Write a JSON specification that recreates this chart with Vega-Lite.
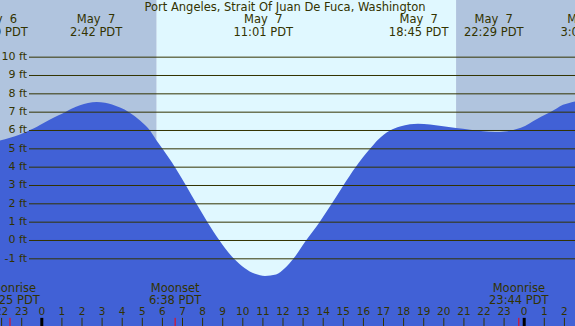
{
  "$schema": "https://vega.github.io/schema/vega-lite/v6.json",
  "width": 575,
  "height": 326,
  "autosize": {"type": "none"},
  "padding": 0,
  "config": {"view": {"stroke": null}, "text": {"font": "DejaVu Sans", "color": "#333300"}},
  "datasets": {
    "sky": [
      {"start": -4, "end": 5.716, "kind": "night"},
      {"start": 5.716, "end": 20.61, "kind": "day"},
      {"start": 20.61, "end": 30, "kind": "night"}
    ],
    "tide": [
      {"t": -2.6, "ft": 5.38}, {"t": -2.08, "ft": 5.45}, {"t": -1.582, "ft": 5.6}, {"t": -1.085, "ft": 5.78},
      {"t": -0.736, "ft": 5.95}, {"t": -0.388, "ft": 6.12}, {"t": -0.09, "ft": 6.3}, {"t": 0.408, "ft": 6.6},
      {"t": 0.806, "ft": 6.82}, {"t": 1.154, "ft": 7.0}, {"t": 1.502, "ft": 7.2}, {"t": 1.9, "ft": 7.38},
      {"t": 2.298, "ft": 7.5}, {"t": 2.731, "ft": 7.55}, {"t": 3.144, "ft": 7.52}, {"t": 3.493, "ft": 7.42},
      {"t": 3.891, "ft": 7.25}, {"t": 4.338, "ft": 7.0}, {"t": 4.886, "ft": 6.55}, {"t": 5.383, "ft": 6.0},
      {"t": 5.682, "ft": 5.5}, {"t": 6.005, "ft": 5.0}, {"t": 6.627, "ft": 4.0}, {"t": 7.174, "ft": 3.0},
      {"t": 7.697, "ft": 2.0}, {"t": 8.244, "ft": 1.0}, {"t": 8.841, "ft": 0.0}, {"t": 9.562, "ft": -1.0},
      {"t": 10.085, "ft": -1.5}, {"t": 10.607, "ft": -1.82}, {"t": 11.104, "ft": -1.93}, {"t": 11.652, "ft": -1.85},
      {"t": 12.1, "ft": -1.5}, {"t": 12.512, "ft": -1.0}, {"t": 13.144, "ft": 0.0}, {"t": 13.816, "ft": 1.0},
      {"t": 14.423, "ft": 2.0}, {"t": 15.0, "ft": 3.0}, {"t": 15.607, "ft": 4.0}, {"t": 16.328, "ft": 5.0},
      {"t": 16.726, "ft": 5.5}, {"t": 17.323, "ft": 6.0}, {"t": 17.821, "ft": 6.22}, {"t": 18.318, "ft": 6.34},
      {"t": 18.716, "ft": 6.37}, {"t": 19.313, "ft": 6.33}, {"t": 20.06, "ft": 6.22}, {"t": 20.607, "ft": 6.13},
      {"t": 21.303, "ft": 6.04}, {"t": 21.95, "ft": 5.96}, {"t": 22.547, "ft": 5.92}, {"t": 23.045, "ft": 5.95},
      {"t": 23.627, "ft": 6.08}, {"t": 24.04, "ft": 6.25}, {"t": 24.438, "ft": 6.5}, {"t": 24.836, "ft": 6.75},
      {"t": 25.284, "ft": 7.0}, {"t": 25.632, "ft": 7.22}, {"t": 25.93, "ft": 7.4}, {"t": 26.279, "ft": 7.52},
      {"t": 26.527, "ft": 7.58}, {"t": 27.274, "ft": 7.7}
    ],
    "grid": [
      {"ft": -1, "label": "-1 ft"}, {"ft": 0, "label": "0 ft"}, {"ft": 1, "label": "1 ft"}, {"ft": 2, "label": "2 ft"},
      {"ft": 3, "label": "3 ft"}, {"ft": 4, "label": "4 ft"}, {"ft": 5, "label": "5 ft"}, {"ft": 6, "label": "6 ft"},
      {"ft": 7, "label": "7 ft"}, {"ft": 8, "label": "8 ft"}, {"ft": 9, "label": "9 ft"}, {"ft": 10, "label": "10 ft"}
    ],
    "events": [
      {"t": -2.18, "label": "May\u00a0\u00a06|21:49 PDT"},
      {"t": 2.7, "label": "May\u00a0\u00a07|2:42 PDT"},
      {"t": 11.017, "label": "May\u00a0\u00a07|11:01 PDT"},
      {"t": 18.75, "label": "May\u00a0\u00a07|18:45 PDT"},
      {"t": 22.483, "label": "May\u00a0\u00a07|22:29 PDT"},
      {"t": 27.1, "label": "May\u00a0\u00a08|3:06 PDT"}
    ],
    "moon": [
      {"t": -1.583, "label": "Moonrise|22:25 PDT"},
      {"t": 6.633, "label": "Moonset|6:38 PDT"},
      {"t": 23.733, "label": "Moonrise|23:44 PDT"}
    ],
    "hours": [
      {"t": -2, "label": "22", "kind": "hour"}, {"t": -1, "label": "23", "kind": "hour"},
      {"t": 0, "label": "0", "kind": "midnight"}, {"t": 1, "label": "1", "kind": "hour"},
      {"t": 2, "label": "2", "kind": "hour"}, {"t": 3, "label": "3", "kind": "hour"},
      {"t": 4, "label": "4", "kind": "hour"}, {"t": 5, "label": "5", "kind": "hour"},
      {"t": 6, "label": "6", "kind": "hour"}, {"t": 7, "label": "7", "kind": "hour"},
      {"t": 8, "label": "8", "kind": "hour"}, {"t": 9, "label": "9", "kind": "hour"},
      {"t": 10, "label": "10", "kind": "hour"}, {"t": 11, "label": "11", "kind": "hour"},
      {"t": 12, "label": "12", "kind": "hour"}, {"t": 13, "label": "13", "kind": "hour"},
      {"t": 14, "label": "14", "kind": "hour"}, {"t": 15, "label": "15", "kind": "hour"},
      {"t": 16, "label": "16", "kind": "hour"}, {"t": 17, "label": "17", "kind": "hour"},
      {"t": 18, "label": "18", "kind": "hour"}, {"t": 19, "label": "19", "kind": "hour"},
      {"t": 20, "label": "20", "kind": "hour"}, {"t": 21, "label": "21", "kind": "hour"},
      {"t": 22, "label": "22", "kind": "hour"}, {"t": 23, "label": "23", "kind": "hour"},
      {"t": 24, "label": "0", "kind": "midnight"}, {"t": 25, "label": "1", "kind": "hour"},
      {"t": 26, "label": "2", "kind": "hour"}
    ],
    "title": [{"t": 12.1, "label": "Port Angeles, Strait Of Juan De Fuca, Washington"}]
  },
  "resolve": {"scale": {"x": "shared", "y": "shared"}},
  "layer": [
    {
      "data": {"name": "sky"},
      "mark": {"type": "rect"},
      "encoding": {
        "x": {"field": "start", "type": "quantitative", "scale": {"domain": [-2.08, 26.527], "nice": false, "zero": false}, "axis": null},
        "x2": {"field": "end"},
        "color": {"field": "kind", "type": "nominal", "scale": {"domain": ["night", "day"], "range": ["#b0c4de", "#e0f8ff"]}, "legend": null}
      }
    },
    {
      "data": {"name": "tide"},
      "mark": {"type": "area", "color": "#4161d6", "interpolate": "monotone"},
      "encoding": {
        "x": {"field": "t", "type": "quantitative"},
        "y": {"field": "ft", "type": "quantitative", "scale": {"domain": [-4.664, 13.118], "nice": false, "zero": false}, "axis": null},
        "y2": {"datum": -4.664}
      }
    },
    {
      "data": {"name": "grid"},
      "mark": {"type": "rule", "color": "#333300", "strokeWidth": 1},
      "encoding": {
        "x": {"datum": -0.637},
        "x2": {"datum": 27},
        "y": {"field": "ft", "type": "quantitative"}
      }
    },
    {
      "data": {"name": "grid"},
      "mark": {"type": "text", "align": "right", "baseline": "middle", "fontSize": 11},
      "encoding": {
        "x": {"datum": -0.736},
        "y": {"field": "ft", "type": "quantitative"},
        "text": {"field": "label"}
      }
    },
    {
      "data": {"name": "title"},
      "mark": {"type": "text", "align": "center", "baseline": "alphabetic", "fontSize": 11.5},
      "encoding": {
        "x": {"field": "t", "type": "quantitative"},
        "y": {"datum": 12.52},
        "text": {"field": "label"}
      }
    },
    {
      "data": {"name": "events"},
      "mark": {"type": "text", "align": "center", "baseline": "alphabetic", "fontSize": 11.5, "lineBreak": "|", "lineHeight": 12.5},
      "encoding": {
        "x": {"field": "t", "type": "quantitative"},
        "y": {"datum": 11.84},
        "text": {"field": "label"}
      }
    },
    {
      "data": {"name": "moon"},
      "mark": {"type": "text", "align": "center", "baseline": "alphabetic", "fontSize": 11.5, "lineBreak": "|", "lineHeight": 12},
      "encoding": {
        "x": {"field": "t", "type": "quantitative"},
        "y": {"datum": -2.825},
        "text": {"field": "label"}
      }
    },
    {
      "data": {"name": "hours"},
      "mark": {"type": "text", "align": "center", "baseline": "alphabetic", "fontSize": 10.5},
      "encoding": {
        "x": {"field": "t", "type": "quantitative"},
        "y": {"datum": -4.064},
        "text": {"field": "label"}
      }
    },
    {
      "data": {"name": "hours"},
      "mark": {"type": "rule"},
      "encoding": {
        "x": {"field": "t", "type": "quantitative"},
        "y": {"datum": -4.22},
        "y2": {"datum": -4.664},
        "strokeWidth": {"field": "kind", "type": "nominal", "scale": {"domain": ["hour", "midnight"], "range": [1, 3]}, "legend": null},
        "stroke": {"field": "kind", "type": "nominal", "scale": {"domain": ["hour", "midnight"], "range": ["#333300", "#000000"]}, "legend": null}
      }
    },
    {
      "data": {"name": "moon"},
      "mark": {"type": "rule", "color": "#ff0000", "strokeWidth": 1},
      "encoding": {
        "x": {"field": "t", "type": "quantitative"},
        "y": {"datum": -4.22},
        "y2": {"datum": -4.664}
      }
    }
  ]
}
